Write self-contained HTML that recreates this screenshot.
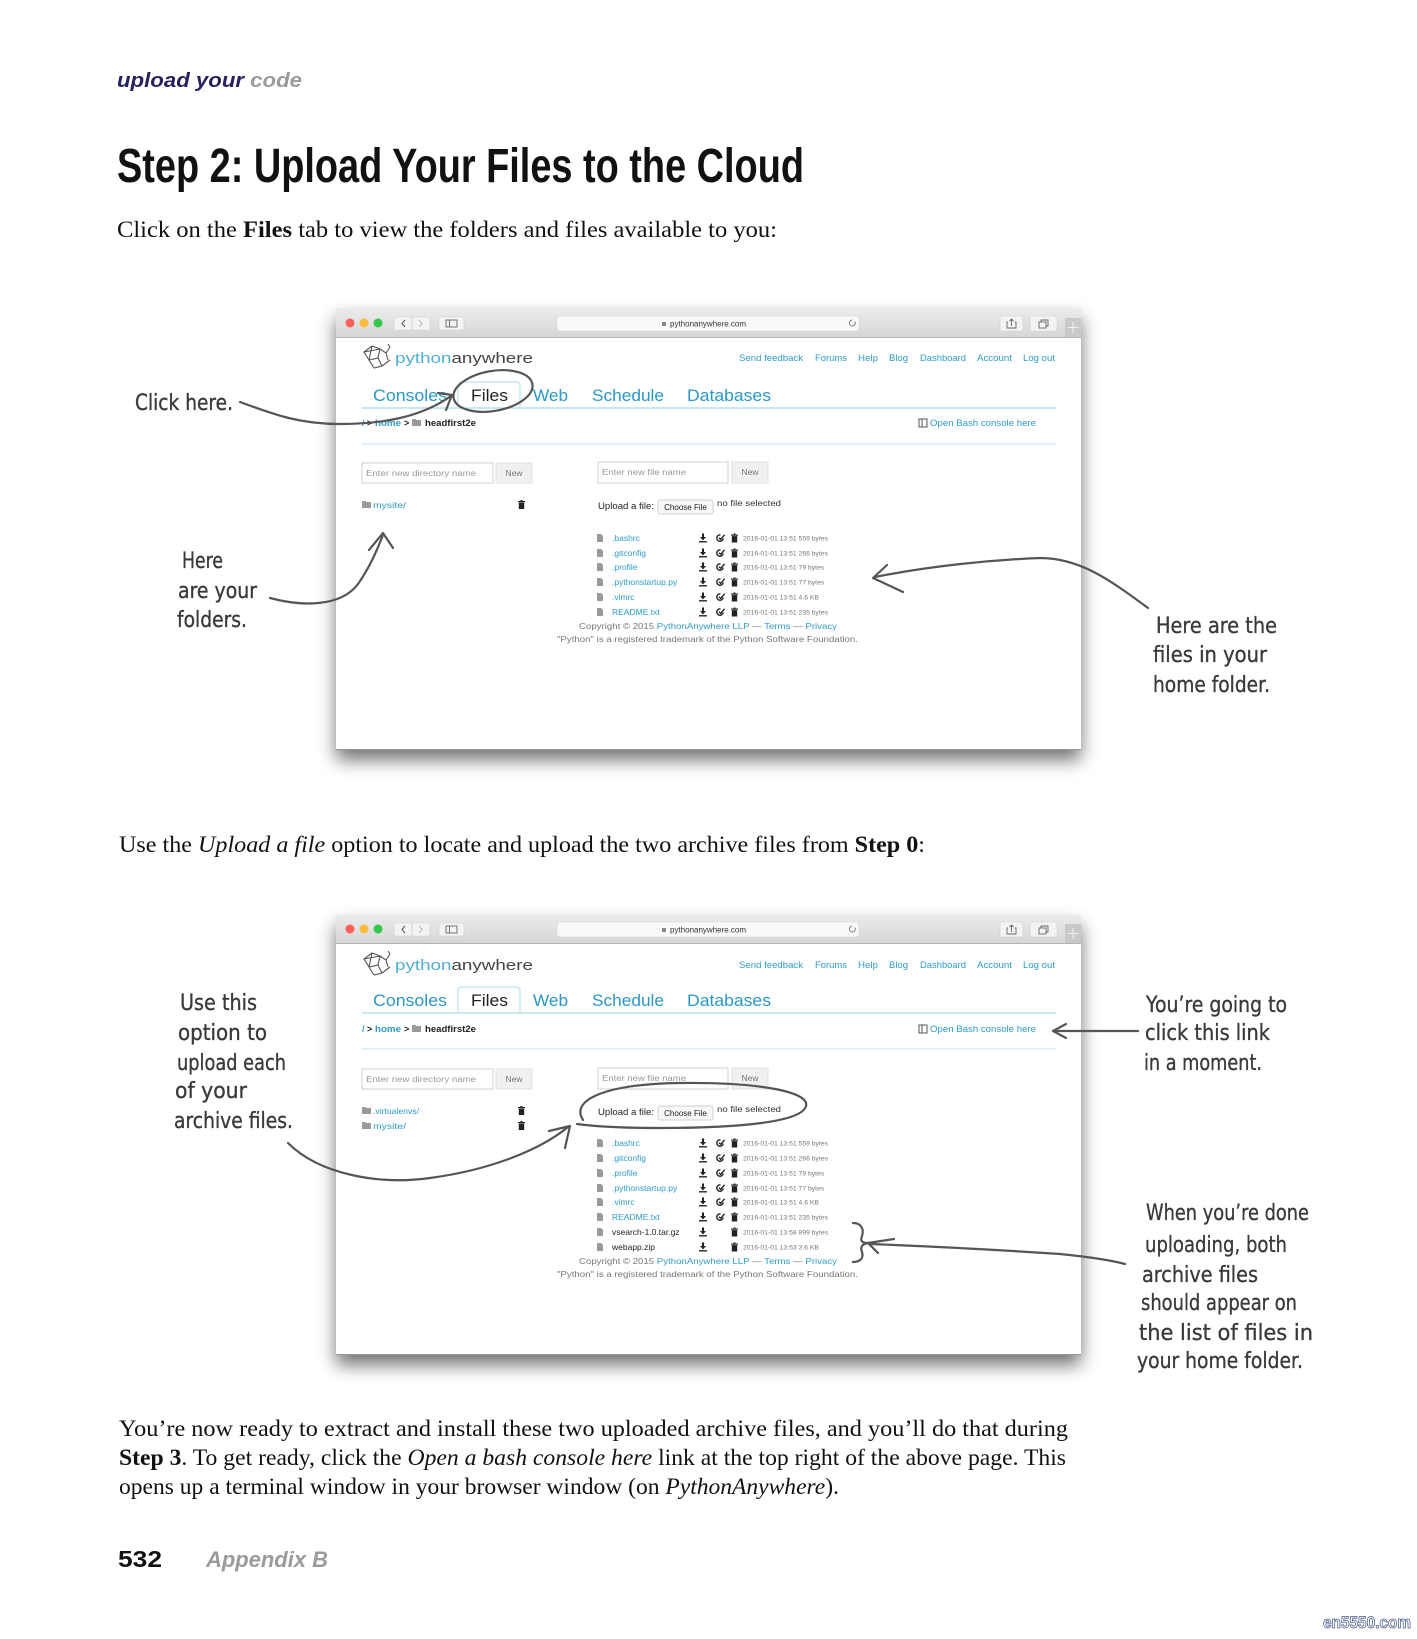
<!DOCTYPE html>
<html><head><meta charset="utf-8"><style>
html,body{margin:0;padding:0;background:#fff;}
svg{display:block;}
.ui{font-family:"Liberation Sans",sans-serif;}
.hw{font-family:"DejaVu Sans","Liberation Sans",sans-serif;font-size:22px;fill:#3a3a3a;stroke:#3a3a3a;stroke-width:0.35;}
.serif{font-family:"Liberation Serif",serif;font-size:23px;fill:#111;}
.fn{font-family:"Liberation Sans",sans-serif;font-size:8.5px;fill:#2d9ccb;}
.dt{font-family:"Liberation Sans",sans-serif;font-size:6.8px;fill:#777;}
.lk{font-family:"Liberation Sans",sans-serif;font-size:9.5px;fill:#2d9ccb;}
.tab{font-family:"Liberation Sans",sans-serif;font-size:17px;fill:#2d9ccb;}
.arw{fill:none;stroke:#555;stroke-width:2.2;stroke-linecap:round;stroke-linejoin:round;}
</style></head><body>
<svg width="1417" height="1639" viewBox="0 0 1417 1639" xmlns="http://www.w3.org/2000/svg">
<defs>
<linearGradient id="tb" x1="0" y1="0" x2="0" y2="1"><stop offset="0" stop-color="#ececec"/><stop offset="1" stop-color="#d6d6d6"/></linearGradient>
<filter id="blur" x="-10%" y="-10%" width="120%" height="130%"><feGaussianBlur stdDeviation="9"/></filter>
<symbol id="dl" viewBox="0 0 8 9"><path d="M3 0h2v3.5h2L4 7 1 3.5h2z M0 7.6h8V9H0z" fill="#222"/></symbol>
<symbol id="ed" viewBox="0 0 9 9"><path d="M7.2 5A3.2 3.2 0 1 1 4.5 1.4" fill="none" stroke="#222" stroke-width="1.4"/><path d="M3 4.3l1.6 1.6 4-4.6" fill="none" stroke="#222" stroke-width="1.4"/></symbol>
<symbol id="tr" viewBox="0 0 7 9"><rect x="0" y="1" width="7" height="1.2" fill="#222"/><rect x="2.5" y="0" width="2" height="1" fill="#222"/><rect x="0.8" y="2.6" width="5.4" height="6.4" fill="#222"/></symbol>
<symbol id="fi" viewBox="0 0 6 8"><path d="M0 0h4l2 2v6H0z" fill="#9a9a9a"/></symbol>
<symbol id="fo" viewBox="0 0 9 7"><path d="M0 0h3.5l1 1H9v6H0z" fill="#9a9a9a"/></symbol>
</defs>
<rect width="1417" height="1639" fill="#fff"/>

<!-- header -->
<text x="117" y="87" class="ui" font-size="20" font-weight="bold" font-style="italic" textLength="185" lengthAdjust="spacingAndGlyphs"><tspan fill="#27225e">upload your </tspan><tspan fill="#9a9a9a">code</tspan></text>
<text x="117" y="182" class="ui" font-size="48" font-weight="bold" fill="#111" textLength="687" lengthAdjust="spacingAndGlyphs">Step 2: Upload Your Files to the Cloud</text>
<text x="117" y="237" class="serif" textLength="660" lengthAdjust="spacingAndGlyphs">Click on the <tspan font-weight="bold">Files</tspan> tab to view the folders and files available to you:</text>

<!-- ============ WINDOW 1 ============ -->
<rect x="336" y="318" width="745" height="442" fill="#000" opacity="0.55" filter="url(#blur)"/>
<g transform="translate(336,308)">
 <rect x="0" y="0" width="745" height="442" fill="#fff"/>
 <rect x="0" y="0" width="745" height="29" fill="url(#tb)"/>
 <line x1="0" y1="29.5" x2="745" y2="29.5" stroke="#b5b5b5"/>
 <circle cx="14" cy="15" r="4.5" fill="#fc605b"/><circle cx="28" cy="15" r="4.5" fill="#fdbc40"/><circle cx="42" cy="15" r="4.5" fill="#34c84a"/>
 <rect x="58" y="9" width="36" height="13" rx="2" fill="#f3f3f3" stroke="#cfcfcf" stroke-width="0.6"/>
 <line x1="76" y1="9" x2="76" y2="22" stroke="#d0d0d0"/>
 <path d="M69 12l-3 3.5 3 3.5" fill="none" stroke="#555" stroke-width="1"/><path d="M83 12l3 3.5-3 3.5" fill="none" stroke="#bbb" stroke-width="1"/>
 <rect x="103" y="9" width="25" height="13" rx="2" fill="#f3f3f3" stroke="#cfcfcf" stroke-width="0.6"/>
 <rect x="110" y="12" width="11" height="7" fill="none" stroke="#666" stroke-width="0.9"/><line x1="113.5" y1="12" x2="113.5" y2="19" stroke="#666" stroke-width="0.9"/>
 <rect x="221" y="8" width="302" height="15" rx="3" fill="#f9f9f9" stroke="#d6d6d6" stroke-width="0.6"/>
 <rect x="326" y="14" width="4" height="4" fill="#888"/>
 <text x="334" y="18.5" class="ui" font-size="8" fill="#333">pythonanywhere.com</text>
 <path d="M519 13.5a3 3 0 1 1-3-1.5" fill="none" stroke="#777" stroke-width="0.9"/>
 <rect x="664" y="8" width="23" height="15" rx="2" fill="#f3f3f3" stroke="#cfcfcf" stroke-width="0.6"/>
 <path d="M672 14h-1v6h9v-6h-1 M675.5 18v-7 M673.5 13l2-2 2 2" fill="none" stroke="#666" stroke-width="0.9"/>
 <rect x="694" y="8" width="27" height="15" rx="2" fill="#f3f3f3" stroke="#cfcfcf" stroke-width="0.6"/>
 <rect x="703" y="14" width="7" height="6" fill="none" stroke="#666" stroke-width="0.9"/><path d="M705 14v-2h7v6h-2" fill="none" stroke="#666" stroke-width="0.9"/>
 <rect x="729" y="10" width="16" height="19" fill="#c9c9c9"/>
 <path d="M737 14v11 M731.5 19.5h11" stroke="#eee" stroke-width="1"/>
 <g fill="none" stroke="#555" stroke-width="1.1">
  <path d="M28 44l8-6 8 3-2 9-9 2z M36 38l-3 14 M28 44l16-3 M33 52l9-2 4 8-8 2z M46 58l8-6 M44 41l6 4 4-6 M54 39l-2-3 M50 45l2 7"/>
 </g>
 <text x="59" y="55" class="ui" font-size="15" textLength="138" lengthAdjust="spacingAndGlyphs"><tspan fill="#4fb0d6">python</tspan><tspan fill="#444">anywhere</tspan></text>
 <text x="403" y="53" class="lk" textLength="64" lengthAdjust="spacingAndGlyphs">Send feedback</text>
 <text x="479" y="53" class="lk" textLength="32" lengthAdjust="spacingAndGlyphs">Forums</text>
 <text x="522" y="53" class="lk" textLength="20" lengthAdjust="spacingAndGlyphs">Help</text>
 <text x="553" y="53" class="lk" textLength="19" lengthAdjust="spacingAndGlyphs">Blog</text>
 <text x="584" y="53" class="lk" textLength="46" lengthAdjust="spacingAndGlyphs">Dashboard</text>
 <text x="641" y="53" class="lk" textLength="35" lengthAdjust="spacingAndGlyphs">Account</text>
 <text x="687" y="53" class="lk" textLength="32" lengthAdjust="spacingAndGlyphs">Log out</text>
 <path d="M122 100V78q0-4 4-4h54q4 0 4 4v22" fill="#fff" stroke="#bfe2ee" stroke-width="1.2"/>
 <line x1="26" y1="100" x2="720" y2="100" stroke="#b9e0ee" stroke-width="1.5"/>
 <text x="37" y="93" class="tab" style="fill:#2a97c6" textLength="74" lengthAdjust="spacingAndGlyphs">Consoles</text>
 <text x="135" y="93" class="tab" style="fill:#222" textLength="37" lengthAdjust="spacingAndGlyphs">Files</text>
 <text x="197" y="93" class="tab" style="fill:#2a97c6" textLength="35" lengthAdjust="spacingAndGlyphs">Web</text>
 <text x="256" y="93" class="tab" style="fill:#2a97c6" textLength="72" lengthAdjust="spacingAndGlyphs">Schedule</text>
 <text x="351" y="93" class="tab" style="fill:#2a97c6" textLength="84" lengthAdjust="spacingAndGlyphs">Databases</text>
 <text x="26" y="118" class="ui" font-size="9" font-weight="bold"><tspan fill="#2d9ccb">/</tspan><tspan fill="#222"> &gt; </tspan></text>
 <text x="39" y="118" class="ui" font-size="9" font-weight="bold" fill="#2d9ccb" textLength="26" lengthAdjust="spacingAndGlyphs">home</text>
 <text x="68" y="118" class="ui" font-size="9" font-weight="bold" fill="#222">&gt;</text>
 <use href="#fo" x="76" y="111" width="9" height="7"/>
 <text x="89" y="118" class="ui" font-size="9" font-weight="bold" fill="#222" textLength="51" lengthAdjust="spacingAndGlyphs">headfirst2e</text>
 <rect x="583" y="111" width="8" height="8" fill="none" stroke="#555" stroke-width="1"/><line x1="586" y1="111" x2="586" y2="119" stroke="#555"/>
 <text x="594" y="118" class="ui" font-size="9" fill="#2d9ccb" textLength="106" lengthAdjust="spacingAndGlyphs">Open Bash console here</text>
 <line x1="26" y1="136" x2="720" y2="136" stroke="#d5edf5" stroke-width="1.5"/>
 <rect x="26" y="155" width="131" height="20" fill="#fff" stroke="#cfcfcf"/>
 <text x="30" y="168" class="ui" font-size="8" fill="#999" textLength="110" lengthAdjust="spacingAndGlyphs">Enter new directory name</text>
 <rect x="160" y="155" width="36" height="20" fill="#f0f0f0" stroke="#e0e0e0"/>
 <text x="178" y="168" class="ui" font-size="8.5" fill="#777" text-anchor="middle">New</text>
 <rect x="262" y="154" width="130" height="21" fill="#fff" stroke="#cfcfcf"/>
 <text x="266" y="167" class="ui" font-size="8" fill="#999" textLength="84" lengthAdjust="spacingAndGlyphs">Enter new file name</text>
 <rect x="396" y="154" width="36" height="21" fill="#f0f0f0" stroke="#e0e0e0"/>
 <text x="414" y="167" class="ui" font-size="8.5" fill="#777" text-anchor="middle">New</text>
 <use href="#fo" x="26" y="193" width="9" height="7"/>
 <text x="37" y="200" class="fn" textLength="33" lengthAdjust="spacingAndGlyphs">mysite/</text>
 <use href="#tr" x="182" y="192" width="7" height="9"/>
 <text x="262" y="201" class="ui" font-size="9" fill="#222" textLength="56" lengthAdjust="spacingAndGlyphs">Upload a file:</text>
 <rect x="322" y="192" width="55" height="14" rx="2" fill="#f7f7f7" stroke="#d0d0d0"/>
 <text x="349.5" y="202" class="ui" font-size="8" fill="#222" text-anchor="middle">Choose File</text>
 <text x="381" y="198" class="ui" font-size="8.5" fill="#333" textLength="64" lengthAdjust="spacingAndGlyphs">no file selected</text>
 <use href="#fi" x="261" y="226" width="6" height="8"/><text x="276" y="233" class="fn">.bashrc</text><use href="#dl" x="363" y="225.5" width="8" height="9"/><use href="#ed" x="380" y="225.5" width="9" height="9"/><use href="#tr" x="395" y="225.5" width="7" height="9"/><text x="407" y="232.5" class="dt">2016-01-01 13:51 559 bytes</text>
 <use href="#fi" x="261" y="241" width="6" height="8"/><text x="276" y="248" class="fn">.gitconfig</text><use href="#dl" x="363" y="240.5" width="8" height="9"/><use href="#ed" x="380" y="240.5" width="9" height="9"/><use href="#tr" x="395" y="240.5" width="7" height="9"/><text x="407" y="247.5" class="dt">2016-01-01 13:51 266 bytes</text>
 <use href="#fi" x="261" y="255" width="6" height="8"/><text x="276" y="262" class="fn">.profile</text><use href="#dl" x="363" y="254.5" width="8" height="9"/><use href="#ed" x="380" y="254.5" width="9" height="9"/><use href="#tr" x="395" y="254.5" width="7" height="9"/><text x="407" y="261.5" class="dt">2016-01-01 13:51 79 bytes</text>
 <use href="#fi" x="261" y="270" width="6" height="8"/><text x="276" y="277" class="fn">.pythonstartup.py</text><use href="#dl" x="363" y="269.5" width="8" height="9"/><use href="#ed" x="380" y="269.5" width="9" height="9"/><use href="#tr" x="395" y="269.5" width="7" height="9"/><text x="407" y="276.5" class="dt">2016-01-01 13:51 77 bytes</text>
 <use href="#fi" x="261" y="285" width="6" height="8"/><text x="276" y="292" class="fn">.vimrc</text><use href="#dl" x="363" y="284.5" width="8" height="9"/><use href="#ed" x="380" y="284.5" width="9" height="9"/><use href="#tr" x="395" y="284.5" width="7" height="9"/><text x="407" y="291.5" class="dt">2016-01-01 13:51 4.6 KB</text>
 <use href="#fi" x="261" y="300" width="6" height="8"/><text x="276" y="307" class="fn">README.txt</text><use href="#dl" x="363" y="299.5" width="8" height="9"/><use href="#ed" x="380" y="299.5" width="9" height="9"/><use href="#tr" x="395" y="299.5" width="7" height="9"/><text x="407" y="306.5" class="dt">2016-01-01 13:51 235 bytes</text>
 <text x="243" y="321" class="ui" font-size="8.5" fill="#777" textLength="258" lengthAdjust="spacingAndGlyphs">Copyright © 2015 <tspan fill="#2d9ccb">PythonAnywhere LLP</tspan> — <tspan fill="#2d9ccb">Terms</tspan> — <tspan fill="#2d9ccb">Privacy</tspan></text>
 <text x="221" y="334" class="ui" font-size="8.5" fill="#777" textLength="301" lengthAdjust="spacingAndGlyphs">"Python" is a registered trademark of the Python Software Foundation.</text>
 <line x1="0" y1="441.5" x2="745" y2="441.5" stroke="#999"/>
</g>

<!-- window 1 annotations -->
<text x="135" y="410" class="hw" textLength="98" lengthAdjust="spacingAndGlyphs">Click here.</text>
<path class="arw" d="M240 402C275 415 300 424 340 424S420 418 451 396"/>
<path class="arw" d="M438 393L452 395L446 410"/>
<ellipse class="arw" cx="493" cy="391" rx="40" ry="20" transform="rotate(-10 493 391)"/>
<text x="182" y="568" class="hw" textLength="41" lengthAdjust="spacingAndGlyphs">Here</text>
<text x="178" y="598" class="hw" textLength="79" lengthAdjust="spacingAndGlyphs">are your</text>
<text x="177" y="627" class="hw" textLength="70" lengthAdjust="spacingAndGlyphs">folders.</text>
<path class="arw" d="M270 598C300 606 340 608 358 584C370 567 377 550 383 535"/>
<path class="arw" d="M369 550L383 533L393 548"/>
<path class="arw" d="M875 577C930 566 990 560 1040 558C1080 558 1110 580 1148 608"/>
<path class="arw" d="M887 565L873 578L903 592"/>
<text x="1156" y="633" class="hw" textLength="121" lengthAdjust="spacingAndGlyphs">Here are the</text>
<text x="1153" y="662" class="hw" textLength="114" lengthAdjust="spacingAndGlyphs">files in your</text>
<text x="1153" y="692" class="hw" textLength="117" lengthAdjust="spacingAndGlyphs">home folder.</text>

<text x="119" y="852" class="serif" textLength="806" lengthAdjust="spacingAndGlyphs">Use the <tspan font-style="italic">Upload a file</tspan> option to locate and upload the two archive files from <tspan font-weight="bold">Step 0</tspan>:</text>

<!-- ============ WINDOW 2 ============ -->
<rect x="336" y="925" width="745" height="440" fill="#000" opacity="0.55" filter="url(#blur)"/>
<g transform="translate(336,915)">
 <rect x="0" y="0" width="745" height="440" fill="#fff"/>
 <rect x="0" y="0" width="745" height="28" fill="url(#tb)"/>
 <line x1="0" y1="28.5" x2="745" y2="28.5" stroke="#b5b5b5"/>
 <circle cx="14" cy="14" r="4.5" fill="#fc605b"/><circle cx="28" cy="14" r="4.5" fill="#fdbc40"/><circle cx="42" cy="14" r="4.5" fill="#34c84a"/>
 <rect x="58" y="8" width="36" height="13" rx="2" fill="#f3f3f3" stroke="#cfcfcf" stroke-width="0.6"/>
 <line x1="76" y1="8" x2="76" y2="21" stroke="#d0d0d0"/>
 <path d="M69 11l-3 3.5 3 3.5" fill="none" stroke="#555" stroke-width="1"/><path d="M83 11l3 3.5-3 3.5" fill="none" stroke="#bbb" stroke-width="1"/>
 <rect x="103" y="8" width="25" height="13" rx="2" fill="#f3f3f3" stroke="#cfcfcf" stroke-width="0.6"/>
 <rect x="110" y="11" width="11" height="7" fill="none" stroke="#666" stroke-width="0.9"/><line x1="113.5" y1="11" x2="113.5" y2="18" stroke="#666" stroke-width="0.9"/>
 <rect x="221" y="7" width="302" height="15" rx="3" fill="#f9f9f9" stroke="#d6d6d6" stroke-width="0.6"/>
 <rect x="326" y="13" width="4" height="4" fill="#888"/>
 <text x="334" y="17.5" class="ui" font-size="8" fill="#333">pythonanywhere.com</text>
 <path d="M519 12.5a3 3 0 1 1-3-1.5" fill="none" stroke="#777" stroke-width="0.9"/>
 <rect x="664" y="7" width="23" height="15" rx="2" fill="#f3f3f3" stroke="#cfcfcf" stroke-width="0.6"/>
 <path d="M672 13h-1v6h9v-6h-1 M675.5 17v-7 M673.5 12l2-2 2 2" fill="none" stroke="#666" stroke-width="0.9"/>
 <rect x="694" y="7" width="27" height="15" rx="2" fill="#f3f3f3" stroke="#cfcfcf" stroke-width="0.6"/>
 <rect x="703" y="13" width="7" height="6" fill="none" stroke="#666" stroke-width="0.9"/><path d="M705 13v-2h7v6h-2" fill="none" stroke="#666" stroke-width="0.9"/>
 <rect x="729" y="9" width="16" height="19" fill="#c9c9c9"/>
 <path d="M737 13v11 M731.5 18.5h11" stroke="#eee" stroke-width="1"/>
 <g fill="none" stroke="#555" stroke-width="1.1">
  <path d="M28 44l8-6 8 3-2 9-9 2z M36 38l-3 14 M28 44l16-3 M33 52l9-2 4 8-8 2z M46 58l8-6 M44 41l6 4 4-6 M54 39l-2-3 M50 45l2 7"/>
 </g>
 <text x="59" y="55" class="ui" font-size="15" textLength="138" lengthAdjust="spacingAndGlyphs"><tspan fill="#4fb0d6">python</tspan><tspan fill="#444">anywhere</tspan></text>
 <text x="403" y="53" class="lk" textLength="64" lengthAdjust="spacingAndGlyphs">Send feedback</text>
 <text x="479" y="53" class="lk" textLength="32" lengthAdjust="spacingAndGlyphs">Forums</text>
 <text x="522" y="53" class="lk" textLength="20" lengthAdjust="spacingAndGlyphs">Help</text>
 <text x="553" y="53" class="lk" textLength="19" lengthAdjust="spacingAndGlyphs">Blog</text>
 <text x="584" y="53" class="lk" textLength="46" lengthAdjust="spacingAndGlyphs">Dashboard</text>
 <text x="641" y="53" class="lk" textLength="35" lengthAdjust="spacingAndGlyphs">Account</text>
 <text x="687" y="53" class="lk" textLength="32" lengthAdjust="spacingAndGlyphs">Log out</text>
 <path d="M122 98V76q0-4 4-4h54q4 0 4 4v22" fill="#fff" stroke="#bfe2ee" stroke-width="1.2"/>
 <line x1="26" y1="98" x2="720" y2="98" stroke="#b9e0ee" stroke-width="1.5"/>
 <text x="37" y="91" class="tab" style="fill:#2a97c6" textLength="74" lengthAdjust="spacingAndGlyphs">Consoles</text>
 <text x="135" y="91" class="tab" style="fill:#222" textLength="37" lengthAdjust="spacingAndGlyphs">Files</text>
 <text x="197" y="91" class="tab" style="fill:#2a97c6" textLength="35" lengthAdjust="spacingAndGlyphs">Web</text>
 <text x="256" y="91" class="tab" style="fill:#2a97c6" textLength="72" lengthAdjust="spacingAndGlyphs">Schedule</text>
 <text x="351" y="91" class="tab" style="fill:#2a97c6" textLength="84" lengthAdjust="spacingAndGlyphs">Databases</text>
 <text x="26" y="117" class="ui" font-size="9" font-weight="bold"><tspan fill="#2d9ccb">/</tspan><tspan fill="#222"> &gt; </tspan></text>
 <text x="39" y="117" class="ui" font-size="9" font-weight="bold" fill="#2d9ccb" textLength="26" lengthAdjust="spacingAndGlyphs">home</text>
 <text x="68" y="117" class="ui" font-size="9" font-weight="bold" fill="#222">&gt;</text>
 <use href="#fo" x="76" y="110" width="9" height="7"/>
 <text x="89" y="117" class="ui" font-size="9" font-weight="bold" fill="#222" textLength="51" lengthAdjust="spacingAndGlyphs">headfirst2e</text>
 <rect x="583" y="110" width="8" height="8" fill="none" stroke="#555" stroke-width="1"/><line x1="586" y1="110" x2="586" y2="118" stroke="#555"/>
 <text x="594" y="117" class="ui" font-size="9" fill="#2d9ccb" textLength="106" lengthAdjust="spacingAndGlyphs">Open Bash console here</text>
 <line x1="26" y1="134" x2="720" y2="134" stroke="#d5edf5" stroke-width="1.5"/>
 <rect x="26" y="154" width="131" height="20" fill="#fff" stroke="#cfcfcf"/>
 <text x="30" y="167" class="ui" font-size="8" fill="#999" textLength="110" lengthAdjust="spacingAndGlyphs">Enter new directory name</text>
 <rect x="160" y="154" width="36" height="20" fill="#f0f0f0" stroke="#e0e0e0"/>
 <text x="178" y="167" class="ui" font-size="8.5" fill="#777" text-anchor="middle">New</text>
 <rect x="262" y="153" width="130" height="21" fill="#fff" stroke="#cfcfcf"/>
 <text x="266" y="166" class="ui" font-size="8" fill="#999" textLength="84" lengthAdjust="spacingAndGlyphs">Enter new file name</text>
 <rect x="396" y="153" width="36" height="21" fill="#f0f0f0" stroke="#e0e0e0"/>
 <text x="414" y="166" class="ui" font-size="8.5" fill="#777" text-anchor="middle">New</text>
 <use href="#fo" x="26" y="192" width="9" height="7"/>
 <text x="37" y="199" class="fn" textLength="46" lengthAdjust="spacingAndGlyphs">.virtualenvs/</text>
 <use href="#tr" x="182" y="191" width="7" height="9"/>
 <use href="#fo" x="26" y="207" width="9" height="7"/>
 <text x="37" y="214" class="fn" textLength="33" lengthAdjust="spacingAndGlyphs">mysite/</text>
 <use href="#tr" x="182" y="206" width="7" height="9"/>
 <text x="262" y="200" class="ui" font-size="9" fill="#222" textLength="56" lengthAdjust="spacingAndGlyphs">Upload a file:</text>
 <rect x="322" y="191" width="55" height="14" rx="2" fill="#f7f7f7" stroke="#d0d0d0"/>
 <text x="349.5" y="201" class="ui" font-size="8" fill="#222" text-anchor="middle">Choose File</text>
 <text x="381" y="197" class="ui" font-size="8.5" fill="#333" textLength="64" lengthAdjust="spacingAndGlyphs">no file selected</text>
 <use href="#fi" x="261" y="224" width="6" height="8"/><text x="276" y="231" class="fn">.bashrc</text><use href="#dl" x="363" y="223.5" width="8" height="9"/><use href="#ed" x="380" y="223.5" width="9" height="9"/><use href="#tr" x="395" y="223.5" width="7" height="9"/><text x="407" y="230.5" class="dt">2016-01-01 13:51 559 bytes</text>
 <use href="#fi" x="261" y="239" width="6" height="8"/><text x="276" y="246" class="fn">.gitconfig</text><use href="#dl" x="363" y="238.5" width="8" height="9"/><use href="#ed" x="380" y="238.5" width="9" height="9"/><use href="#tr" x="395" y="238.5" width="7" height="9"/><text x="407" y="245.5" class="dt">2016-01-01 13:51 266 bytes</text>
 <use href="#fi" x="261" y="254" width="6" height="8"/><text x="276" y="261" class="fn">.profile</text><use href="#dl" x="363" y="253.5" width="8" height="9"/><use href="#ed" x="380" y="253.5" width="9" height="9"/><use href="#tr" x="395" y="253.5" width="7" height="9"/><text x="407" y="260.5" class="dt">2016-01-01 13:51 79 bytes</text>
 <use href="#fi" x="261" y="269" width="6" height="8"/><text x="276" y="276" class="fn">.pythonstartup.py</text><use href="#dl" x="363" y="268.5" width="8" height="9"/><use href="#ed" x="380" y="268.5" width="9" height="9"/><use href="#tr" x="395" y="268.5" width="7" height="9"/><text x="407" y="275.5" class="dt">2016-01-01 13:51 77 bytes</text>
 <use href="#fi" x="261" y="283" width="6" height="8"/><text x="276" y="290" class="fn">.vimrc</text><use href="#dl" x="363" y="282.5" width="8" height="9"/><use href="#ed" x="380" y="282.5" width="9" height="9"/><use href="#tr" x="395" y="282.5" width="7" height="9"/><text x="407" y="289.5" class="dt">2016-01-01 13:51 4.6 KB</text>
 <use href="#fi" x="261" y="298" width="6" height="8"/><text x="276" y="305" class="fn">README.txt</text><use href="#dl" x="363" y="297.5" width="8" height="9"/><use href="#ed" x="380" y="297.5" width="9" height="9"/><use href="#tr" x="395" y="297.5" width="7" height="9"/><text x="407" y="304.5" class="dt">2016-01-01 13:51 235 bytes</text>
 <use href="#fi" x="261" y="313" width="6" height="8"/><text x="276" y="320" class="fn" style="fill:#222">vsearch-1.0.tar.gz</text><use href="#dl" x="363" y="312.5" width="8" height="9"/><use href="#tr" x="395" y="312.5" width="7" height="9"/><text x="407" y="319.5" class="dt">2016-01-01 13:58 899 bytes</text>
 <use href="#fi" x="261" y="328" width="6" height="8"/><text x="276" y="335" class="fn" style="fill:#222">webapp.zip</text><use href="#dl" x="363" y="327.5" width="8" height="9"/><use href="#tr" x="395" y="327.5" width="7" height="9"/><text x="407" y="334.5" class="dt">2016-01-01 13:53 3.6 KB</text>
 <text x="243" y="349" class="ui" font-size="8.5" fill="#777" textLength="258" lengthAdjust="spacingAndGlyphs">Copyright © 2015 <tspan fill="#2d9ccb">PythonAnywhere LLP</tspan> — <tspan fill="#2d9ccb">Terms</tspan> — <tspan fill="#2d9ccb">Privacy</tspan></text>
 <text x="221" y="362" class="ui" font-size="8.5" fill="#777" textLength="301" lengthAdjust="spacingAndGlyphs">"Python" is a registered trademark of the Python Software Foundation.</text>
 <line x1="0" y1="439.5" x2="745" y2="439.5" stroke="#999"/>
</g>

<!-- window 2 annotations -->
<text x="180" y="1010" class="hw" textLength="77" lengthAdjust="spacingAndGlyphs">Use this</text>
<text x="178" y="1040" class="hw" textLength="89" lengthAdjust="spacingAndGlyphs">option to</text>
<text x="177" y="1070" class="hw" textLength="109" lengthAdjust="spacingAndGlyphs">upload each</text>
<text x="175" y="1098" class="hw" textLength="72" lengthAdjust="spacingAndGlyphs">of your</text>
<text x="174" y="1128" class="hw" textLength="119" lengthAdjust="spacingAndGlyphs">archive files.</text>
<path class="arw" d="M288 1143C320 1175 380 1185 430 1178C490 1170 540 1150 568 1127"/>
<path class="arw" d="M549 1131L570 1126L565 1148"/>
<path class="arw" d="M583 1120C570 1100 605 1084 680 1083C760 1082 810 1092 806 1106C802 1122 740 1128 660 1128C620 1128 592 1126 577 1124"/>
<path class="arw" d="M1138 1031L1055 1031"/>
<path class="arw" d="M1066 1024L1053 1031L1066 1038"/>
<text x="1146" y="1012" class="hw" textLength="141" lengthAdjust="spacingAndGlyphs">You’re going to</text>
<text x="1145" y="1040" class="hw" textLength="125" lengthAdjust="spacingAndGlyphs">click this link</text>
<text x="1144" y="1070" class="hw" textLength="118" lengthAdjust="spacingAndGlyphs">in a moment.</text>
<path class="arw" d="M853 1223C862 1223 864 1230 862 1236C860 1241 862 1243 868 1243C862 1244 860 1247 862 1252C864 1258 860 1262 853 1262"/>
<path class="arw" d="M870 1244C920 1246 1000 1250 1060 1254C1090 1257 1110 1260 1125 1264"/>
<path class="arw" d="M894 1239L868 1243L878 1253"/>
<text x="1146" y="1220" class="hw" textLength="163" lengthAdjust="spacingAndGlyphs">When you’re done</text>
<text x="1145" y="1252" class="hw" textLength="142" lengthAdjust="spacingAndGlyphs">uploading, both</text>
<text x="1142" y="1282" class="hw" textLength="116" lengthAdjust="spacingAndGlyphs">archive files</text>
<text x="1141" y="1310" class="hw" textLength="156" lengthAdjust="spacingAndGlyphs">should appear on</text>
<text x="1139" y="1340" class="hw" textLength="174" lengthAdjust="spacingAndGlyphs">the list of files in</text>
<text x="1137" y="1368" class="hw" textLength="166" lengthAdjust="spacingAndGlyphs">your home folder.</text>

<!-- bottom paragraph -->
<text x="119" y="1436" class="serif" textLength="949" lengthAdjust="spacingAndGlyphs">You’re now ready to extract and install these two uploaded archive files, and you’ll do that during</text>
<text x="119" y="1465" class="serif" textLength="947" lengthAdjust="spacingAndGlyphs"><tspan font-weight="bold">Step 3</tspan>. To get ready, click the <tspan font-style="italic">Open a bash console here</tspan> link at the top right of the above page. This</text>
<text x="119" y="1494" class="serif" textLength="720" lengthAdjust="spacingAndGlyphs">opens up a terminal window in your browser window (on <tspan font-style="italic">PythonAnywhere</tspan>).</text>

<text x="118" y="1567" class="ui" font-size="23" font-weight="bold" fill="#111" textLength="44" lengthAdjust="spacingAndGlyphs">532</text>
<text x="206" y="1567" class="ui" font-size="22" font-weight="bold" font-style="italic" fill="#9b9b9b" textLength="122" lengthAdjust="spacingAndGlyphs">Appendix B</text>

<text x="1323" y="1628" class="ui" font-size="17" font-weight="bold" fill="#fff" stroke="#4a5a8a" stroke-width="0.8" textLength="88" lengthAdjust="spacingAndGlyphs">en5550.com</text>
</svg>
</body></html>
